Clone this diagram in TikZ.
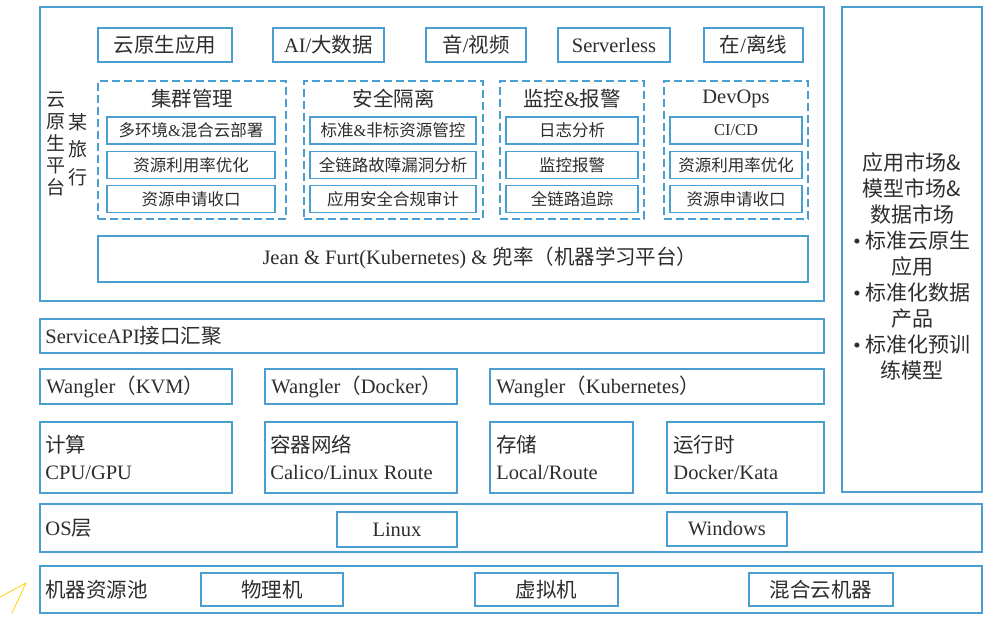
\documentclass[tikz,border=0pt]{standalone}
\usepackage{fontspec}
\setmainfont{Liberation Serif}
\newfontfamily\cjk{Noto Sans CJK SC}
\newcommand\zh[1]{{\cjk #1}}
\newcommand\mktdot{{\rmfamily •}\hspace{5pt}}
\definecolor{frame}{RGB}{74,158,212}
\definecolor{ink}{RGB}{45,45,45}
\begin{document}
\begin{tikzpicture}[x=1pt,y=-1pt,
    box/.style={draw=frame,line width=1.5pt,inner sep=0pt},
    grp/.style={box,dash pattern=on 8pt off 4pt},
    big/.style={font=\fontsize{20.5}{27}\selectfont,text=ink},
    small/.style={font=\fontsize{16.5}{20}\selectfont,text=ink},
    lbl/.style={big,anchor=west,align=left,inner sep=0pt}]
  \useasboundingbox[fill=white] (0,0) rectangle (993,628);
  \node[box,minimum width=784,minimum height=294] (plat) at (432,154) {};
  \node[box,minimum width=140,minimum height=485] (mkt) at (912,249.5) {};
  \node[align=center,text=ink,font={\fontsize{19}{21.9}\selectfont\cjk}] (plat1) at (56,143.75) {云\\原\\生\\平\\台};
  \node[align=center,text=ink,font={\fontsize{19}{27.5}\selectfont\cjk}] (plat2) at (78,149.5) {某\\旅\\行};
  \node[align=center,text=ink,font={\fontsize{21}{26.1}\selectfont\cjk}] (mkt1) at (912,266.5)
    {应用市场\&\\模型市场\&\\数据市场\\\mktdot 标准云原生\\应用\\\mktdot 标准化数据\\产品\\\mktdot 标准化预训\\练模型};
  \node[box,big,minimum width=134,minimum height=34] (app) at (165,45) {\zh{云原生应用}};
  \node[box,big,minimum width=111,minimum height=34] (ai) at (328.5,45) {AI/\zh{大数据}};
  \node[box,big,minimum width=100,minimum height=34] (av) at (476,45) {\zh{音}/\zh{视频}};
  \node[box,big,minimum width=112,minimum height=34] (sls) at (614,45) {Serverless};
  \node[box,big,minimum width=99,minimum height=34] (line) at (753.5,45) {\zh{在}/\zh{离线}};
  \node[grp,minimum width=188,minimum height=138] (g1) at (192,150) {};
  \node[grp,minimum width=179,minimum height=138] (g2) at (393.5,150) {};
  \node[grp,minimum width=144,minimum height=138] (g3) at (572,150) {};
  \node[grp,minimum width=144,minimum height=138] (g4) at (736,150) {};
  \node[big] (t1) at (192,99) {\zh{集群管理}};
  \node[big] (t2) at (393.5,99) {\zh{安全隔离}};
  \node[big] (t3) at (572,99) {\zh{监控}\&\zh{报警}};
  \node[big] (t4) at (736,99) {DevOps};
  \node[box,small,minimum width=168,minimum height=27] (g1a) at (191,130.5) {\zh{多环境}\&\zh{混合云部署}};
  \node[box,small,minimum width=168,minimum height=27] (g1b) at (191,165) {\zh{资源利用率优化}};
  \node[box,small,minimum width=168,minimum height=27] (g1c) at (191,199) {\zh{资源申请收口}};
  \node[box,small,minimum width=166,minimum height=27] (g2a) at (393,130.5) {\zh{标准}\&\zh{非标资源管控}};
  \node[box,small,minimum width=166,minimum height=27] (g2b) at (393,165) {\zh{全链路故障漏洞分析}};
  \node[box,small,minimum width=166,minimum height=27] (g2c) at (393,199) {\zh{应用安全合规审计}};
  \node[box,small,minimum width=132,minimum height=27] (g3a) at (572,130.5) {\zh{日志分析}};
  \node[box,small,minimum width=132,minimum height=27] (g3b) at (572,165) {\zh{监控报警}};
  \node[box,small,minimum width=132,minimum height=27] (g3c) at (572,199) {\zh{全链路追踪}};
  \node[box,small,minimum width=132,minimum height=27] (g4a) at (736,130.5) {CI/CD};
  \node[box,small,minimum width=132,minimum height=27] (g4b) at (736,165) {\zh{资源利用率优化}};
  \node[box,small,minimum width=132,minimum height=27] (g4c) at (736,199) {\zh{资源申请收口}};
  \node[box,minimum width=710,minimum height=46] (ml) at (453,259) {};
  \node[big] (mlt) at (480,258) {Jean \& Furt(Kubernetes) \& \zh{兜率（机器学习平台）}};
  \node[box,minimum width=784,minimum height=34] (api) at (432,336) {};
  \node[lbl] (apit) at ([xshift=6]api.west) {ServiceAPI\zh{接口汇聚}};
  \node[box,minimum width=192,minimum height=35] (kvm) at (136,386.5) {};
  \node[box,minimum width=192,minimum height=35] (dock) at (361,386.5) {};
  \node[box,minimum width=334,minimum height=35] (k8s) at (657,386.5) {};
  \node[lbl] (kvmt) at ([xshift=7]kvm.west) {Wangler\zh{（}KVM\zh{）}};
  \node[lbl] (dockt) at ([xshift=7]dock.west) {Wangler\zh{（}Docker\zh{）}};
  \node[lbl] (k8st) at ([xshift=7]k8s.west) {Wangler\zh{（}Kubernetes\zh{）}};
  \node[box,minimum width=192,minimum height=71] (cpu) at (136,457.5) {};
  \node[box,minimum width=192,minimum height=71] (net) at (361,457.5) {};
  \node[box,minimum width=143,minimum height=71] (sto) at (561.5,457.5) {};
  \node[box,minimum width=157,minimum height=71] (rt) at (745.5,457.5) {};
  \node[lbl] (cput) at ([xshift=6]cpu.west) {\zh{计算}\\CPU/GPU};
  \node[lbl] (nett) at ([xshift=6]net.west) {\zh{容器网络}\\Calico/Linux Route};
  \node[lbl] (stot) at ([xshift=7]sto.west) {\zh{存储}\\Local/Route};
  \node[lbl] (rtt) at ([xshift=7]rt.west) {\zh{运行时}\\Docker/Kata};
  \node[box,minimum width=942,minimum height=48] (os) at (511,528) {};
  \node[lbl] (ost) at ([xshift=6]os.west) {OS\zh{层}};
  \node[box,big,minimum width=120,minimum height=35] (linux) at (397,529.5) {Linux};
  \node[box,big,minimum width=120,minimum height=34] (win) at (727,529) {Windows};
  \node[box,minimum width=942,minimum height=47] (pool) at (511,589.5) {};
  \node[lbl] (poolt) at ([xshift=6]pool.west) {\zh{机器资源池}};
  \node[box,big,minimum width=142,minimum height=33] (phys) at (272,589.5) {\zh{物理机}};
  \node[box,big,minimum width=143,minimum height=33] (virt) at (546.5,589.5) {\zh{虚拟机}};
  \node[box,big,minimum width=144,minimum height=33] (hyb) at (821,589.5) {\zh{混合云机器}};
  \draw[yellow!70!orange,line width=0.8pt] (0,597) -- (26,583) -- (12,613);
\end{tikzpicture}
\end{document}
